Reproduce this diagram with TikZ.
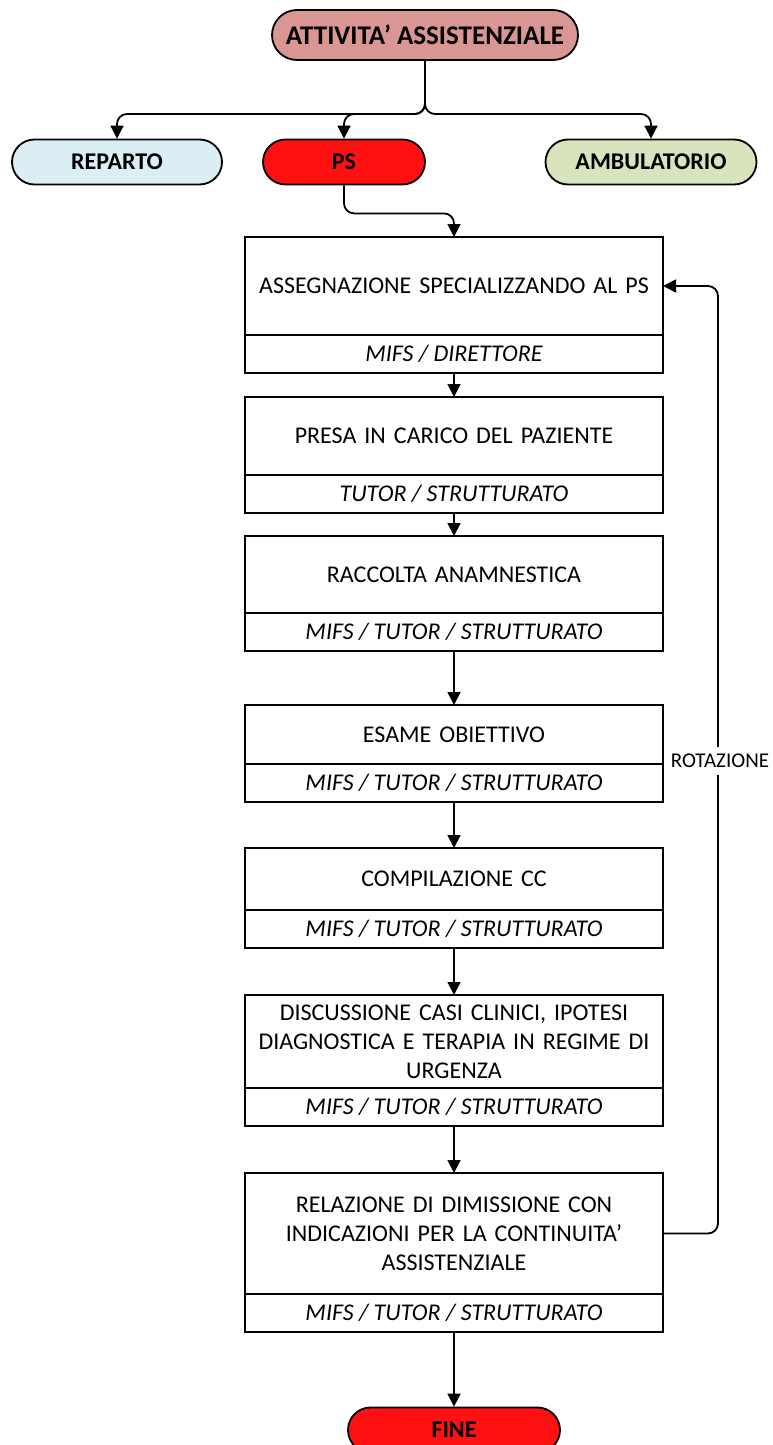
\documentclass[tikz,border=0pt]{standalone}
\usepackage{fontspec}
\setmainfont{Carlito}
\usetikzlibrary{arrows.meta,positioning,shapes.misc}

\definecolor{rosaant}{RGB}{217,150,148}
\definecolor{celeste}{RGB}{219,238,244}
\definecolor{salvia}{RGB}{215,228,189}
\definecolor{rossops}{RGB}{255,17,17}

\begin{document}
\begin{tikzpicture}[x=1pt,y=-1pt,>={Triangle[length=13pt,width=13pt]},line width=1.8pt,
	pill/.style={rounded rectangle,draw,minimum height=45pt,inner sep=0pt,font=\fontsize{24}{29}\selectfont\bfseries},
	fase/.style={draw,outer sep=0pt,minimum width=418pt,text width=396pt,align=center,inner sep=0pt,font=\fontsize{24}{29}\selectfont},
	ruolo/.style={draw,outer sep=0pt,minimum width=418pt,minimum height=38pt,inner sep=0pt,font=\fontsize{24}{29}\selectfont\itshape}]

\useasboundingbox (0,0) rectangle (773,1445);

\node[pill,fill=rosaant,minimum width=306pt,minimum height=50pt,font=\fontsize{27}{32}\selectfont\bfseries] (att) at (425,35) {ATTIVITA’ ASSISTENZIALE};
\node[pill,fill=celeste,minimum width=210pt] (rep) at (117,162) {REPARTO};
\node[pill,fill=rossops,minimum width=162pt] (ps)  at (344,162) {PS};
\node[pill,fill=salvia,minimum width=211pt]  (amb) at (651,162) {AMBULATORIO};
\coordinate (split) at (425,114);

\node[fase,minimum height=98pt]  (f1) at (454,286)    {ASSEGNAZIONE SPECIALIZZANDO AL PS};
\node[ruolo,below=0pt of f1] (r1) {MIFS / DIRETTORE};
\node[fase,minimum height=78pt]  (f2) at (454,436)    {PRESA IN CARICO DEL PAZIENTE};
\node[ruolo,below=0pt of f2] (r2) {TUTOR / STRUTTURATO};
\node[fase,minimum height=77pt]  (f3) at (454,574.5)  {RACCOLTA ANAMNESTICA};
\node[ruolo,below=0pt of f3] (r3) {MIFS / TUTOR / STRUTTURATO};
\node[fase,minimum height=59pt]  (f4) at (454,734.5)  {ESAME OBIETTIVO};
\node[ruolo,below=0pt of f4] (r4) {MIFS / TUTOR / STRUTTURATO};
\node[fase,minimum height=62pt]  (f5) at (454,879)    {COMPILAZIONE CC};
\node[ruolo,below=0pt of f5] (r5) {MIFS / TUTOR / STRUTTURATO};
\node[fase,minimum height=93pt]  (f6) at (454,1041.5) {DISCUSSIONE CASI CLINICI, IPOTESI\\DIAGNOSTICA E TERAPIA IN REGIME DI\\URGENZA};
\node[ruolo,below=0pt of f6] (r6) {MIFS / TUTOR / STRUTTURATO};
\node[fase,minimum height=121pt] (f7) at (454,1233.5) {RELAZIONE DI DIMISSIONE CON\\INDICAZIONI PER LA CONTINUITA’\\ASSISTENZIALE};
\node[ruolo,below=0pt of f7] (r7) {MIFS / TUTOR / STRUTTURATO};

\node[pill,fill=rossops,minimum width=212pt] (fine) at (454,1430) {FINE};

% diramazione iniziale
\draw[->,rounded corners=10pt] (att.south) -- (split) -| (rep.north);
\draw[->,rounded corners=10pt] (att.south) -- (split) -| (ps.north);
\draw[->,rounded corners=10pt] (att.south) -- (split) -| (amb.north);
\draw[->,rounded corners=10pt] (ps.south) -- ++(0,28) -| (f1.north);

\path[->] (r1) edge (f2)
	(r2) edge (f3)
	(r3) edge (f4)
	(r4) edge (f5)
	(r5) edge (f6)
	(r6) edge (f7)
	(r7) edge (fine);

% ritorno
\draw[->,rounded corners=10pt] (f7.east) -- ++(55,0) |- (f1.east);
\node[fill=white,inner xsep=2pt,inner ysep=7pt,font=\fontsize{21}{25}\selectfont] (rot) at (720,761) {ROTAZIONE};

\end{tikzpicture}
\end{document}
